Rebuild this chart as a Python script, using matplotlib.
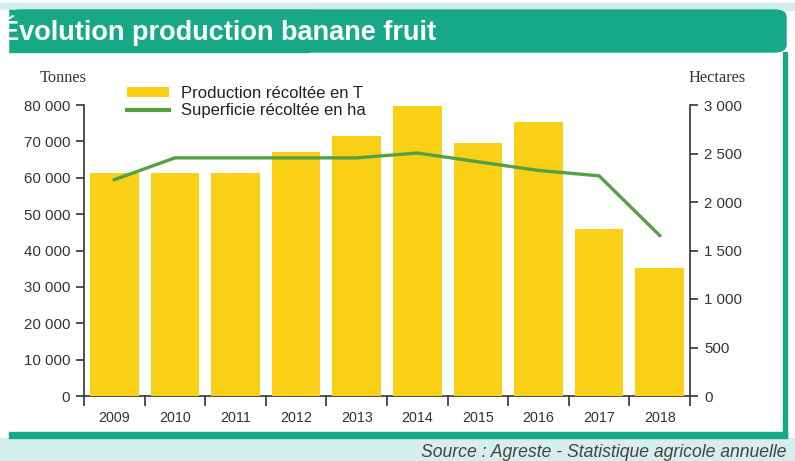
import matplotlib
matplotlib.use("Agg")
import matplotlib.pyplot as plt
from matplotlib.patches import Rectangle, FancyBboxPatch, Patch
from matplotlib.lines import Line2D
from matplotlib.ticker import FixedLocator, FuncFormatter, NullFormatter

years = ["2009", "2010", "2011", "2012", "2013", "2014", "2015", "2016", "2017", "2018"]
production_t = [61300, 61300, 61300, 67100, 71500, 79700, 69500, 75300, 45900, 35200]
superficie_ha = [2230, 2455, 2455, 2455, 2455, 2505, 2415, 2325, 2270, 1655]

YELLOW = "#fad016"
GREEN_LINE = "#55a043"
TEAL = "#17a987"
TXT = "#333333"

plt.rcParams["font.family"] = ["Liberation Sans", "DejaVu Sans"]

W, H = 795, 461
fig = plt.figure(figsize=(W / 100, H / 100), dpi=100)


def fx(px):
    return px / W


def fy(py):
    return 1 - py / H


# cadre et bandeau
fig.patches.append(Rectangle((fx(0), fy(10)), 1, fy(3) - fy(10), transform=fig.transFigure,
                             color="#d3efe9", zorder=0))
fig.patches.append(FancyBboxPatch((fx(9), fy(52)), fx(786) - fx(9), fy(10) - fy(52),
                                  boxstyle="round,pad=0,rounding_size=0.015",
                                  transform=fig.transFigure, color=TEAL, zorder=1))
fig.patches.append(Rectangle((fx(9), fy(52)), fx(300), fy(10) - fy(52), transform=fig.transFigure,
                             color=TEAL, zorder=1))
fig.patches.append(Rectangle((fx(783), fy(437)), fx(4), fy(52) - fy(437), transform=fig.transFigure,
                             color=TEAL, zorder=1))
fig.patches.append(Rectangle((fx(0), fy(461)), 1, fy(438) - fy(461), transform=fig.transFigure,
                             color="#d6efea", zorder=0))
fig.patches.append(Rectangle((fx(9), fy(438)), fx(778), fy(432) - fy(438), transform=fig.transFigure,
                             color=TEAL, zorder=1))
# le titre est coupé à gauche du bandeau
fig.patches.append(Rectangle((fx(0), fy(52)), fx(8), fy(10) - fy(52), transform=fig.transFigure,
                             color="white", zorder=4))

fig.text(fx(1), fy(31), "Évolution production banane fruit", color="white", fontsize=19.5,
         fontweight="bold", va="center", ha="left", zorder=3)
fig.text(fx(421), fy(452), "Source : Agreste - Statistique agricole annuelle", color="#444444",
         fontsize=12.7, style="italic", va="center", ha="left")

ax1 = fig.add_axes([fx(84), fy(396), fx(690) - fx(84), fy(105) - fy(396)])
ax1.patch.set_alpha(0)
x = list(range(len(years)))
ax1.bar(x, production_t, width=0.8, color=YELLOW, zorder=1)
ax1.set_xlim(-0.5, len(years) - 0.5)
ax1.set_ylim(0, 80000)

fmt = FuncFormatter(lambda v, p: f"{v:,.0f}".replace(",", " "))
ax1.yaxis.set_major_formatter(fmt)
ax1.set_yticks(range(0, 80001, 10000))
ax1.tick_params(axis="y", direction="out", length=6, width=1.2, color=TXT, labelcolor=TXT,
                labelsize=10.8, pad=4)

ax1.xaxis.set_major_locator(FixedLocator([i - 0.5 for i in range(len(years) + 1)]))
ax1.xaxis.set_major_formatter(NullFormatter())
ax1.xaxis.set_minor_locator(FixedLocator(x))
ax1.set_xticklabels(years, minor=True)
ax1.tick_params(axis="x", which="major", direction="out", length=7, width=1.2, color=TXT)
ax1.tick_params(axis="x", which="minor", length=0, pad=11, labelsize=10.3, labelcolor=TXT)

for s in ["top", "right"]:
    ax1.spines[s].set_visible(False)
for s in ["left", "bottom"]:
    ax1.spines[s].set_color(TXT)
    ax1.spines[s].set_linewidth(1.2)
ax1.spines["bottom"].set_zorder(0.5)

ax2 = ax1.twinx()
ax2.plot(x, superficie_ha, color=GREEN_LINE, linewidth=2.4, zorder=3)
ax2.set_ylim(0, 3000)
ax2.set_yticks(range(0, 3001, 500))
ax2.yaxis.set_major_formatter(fmt)
ax2.tick_params(axis="y", direction="out", length=6, width=1.2, color=TXT, labelcolor=TXT,
                labelsize=10.8, pad=4)
for s in ["top", "left", "bottom"]:
    ax2.spines[s].set_visible(False)
ax2.spines["right"].set_color(TXT)
ax2.spines["right"].set_linewidth(1.2)

fig.text(fx(63), fy(78), "Tonnes", family="Liberation Serif", fontsize=11.8, color=TXT,
         ha="center", va="center")
fig.text(fx(717), fy(78), "Hectares", family="Liberation Serif", fontsize=11.8, color=TXT,
         ha="center", va="center")

handles = [Patch(facecolor=YELLOW, edgecolor="none"),
           Line2D([0], [0], color=GREEN_LINE, linewidth=3)]
labels = ["Production récoltée en T", "Superficie récoltée en ha"]
fig.legend(handles, labels, loc="upper left", bbox_to_anchor=(fx(127), fy(86)),
           frameon=False, fontsize=12, handlelength=2.5, handleheight=0.5,
           handletextpad=0.75, labelspacing=0.12, borderpad=0, borderaxespad=0,
           labelcolor="#222222")

fig.savefig("out.png", dpi=100)
